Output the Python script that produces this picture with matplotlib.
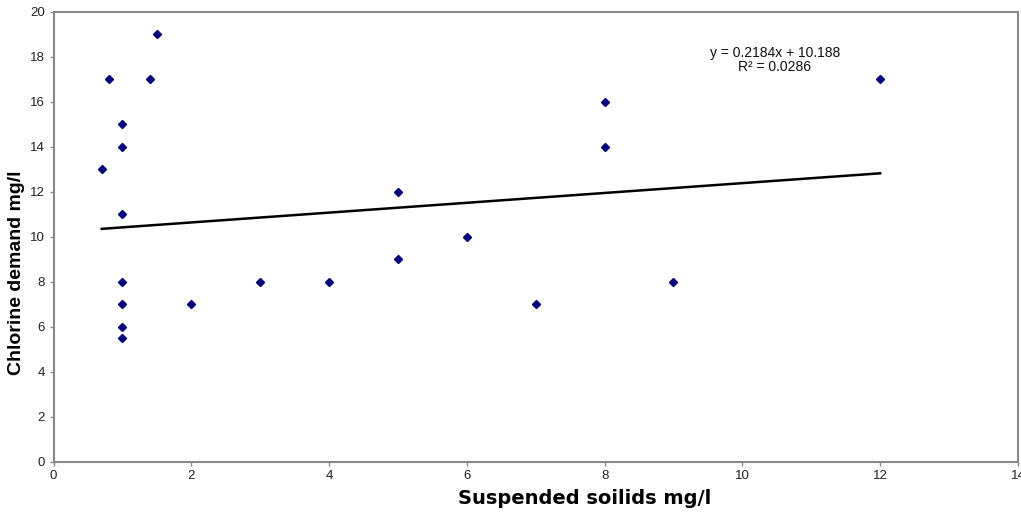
import numpy as np
import matplotlib
matplotlib.use("Agg")
import matplotlib.pyplot as plt

plt.rcParams['font.family'] = ['Liberation Sans', 'DejaVu Sans']

# suspended solids (mg/l) og chlorine demand (mg/l)
ss = [0.7, 0.8, 1.4, 1.5, 1, 1, 1, 1, 1, 1, 1, 2, 3, 4, 5, 5, 6, 7, 8, 8, 9, 12]
cl = [13, 17, 17, 19, 15, 14, 11, 8, 7, 6, 5.5, 7, 8, 8, 12, 9, 10, 7, 16, 14, 8, 17]

# trendlinje fra Excel
slope = 0.2184
intercept = 10.188
r2 = 0.0286

fig = plt.figure(figsize=(10.21, 5.16), dpi=100)
ax = fig.add_axes([0.0524, 0.1056, 0.9446, 0.8721])

ax.plot(ss, cl, linestyle='none', marker='D', markersize=4.5,
        color='#000080', zorder=3)

xt = np.array([min(ss), max(ss)])
ax.plot(xt, slope * xt + intercept, color='black', linewidth=1.8, zorder=2)

ax.annotate(f'y = {slope}x + {intercept}\nR² = {r2}', xy=(10.47, 17.85),
            ha='center', va='center', fontsize=10, linespacing=1.05,
            color='#111111')

ax.set_xlim(0, 14)
ax.set_ylim(0, 20)
ax.set_xticks(range(0, 15, 2))
ax.set_yticks(range(0, 21, 2))

for s in ax.spines.values():
    s.set_color('#888888')
    s.set_linewidth(1.5)
ax.tick_params(direction='out', length=3, width=1, color='#888888',
               labelsize=9.5, labelcolor='#222222', pad=3)

# aksetitler plassert som i originalen
fig.text(0.573, 0.033, 'Suspended soilids mg/l', fontsize=14,
         fontweight='bold', family='DejaVu Sans', ha='center', va='center')
fig.text(0.016, 0.472, 'Chlorine demand mg/l', fontsize=14,
         fontweight='bold', rotation=90, ha='center', va='center')

fig.savefig('out.png', dpi=100)
